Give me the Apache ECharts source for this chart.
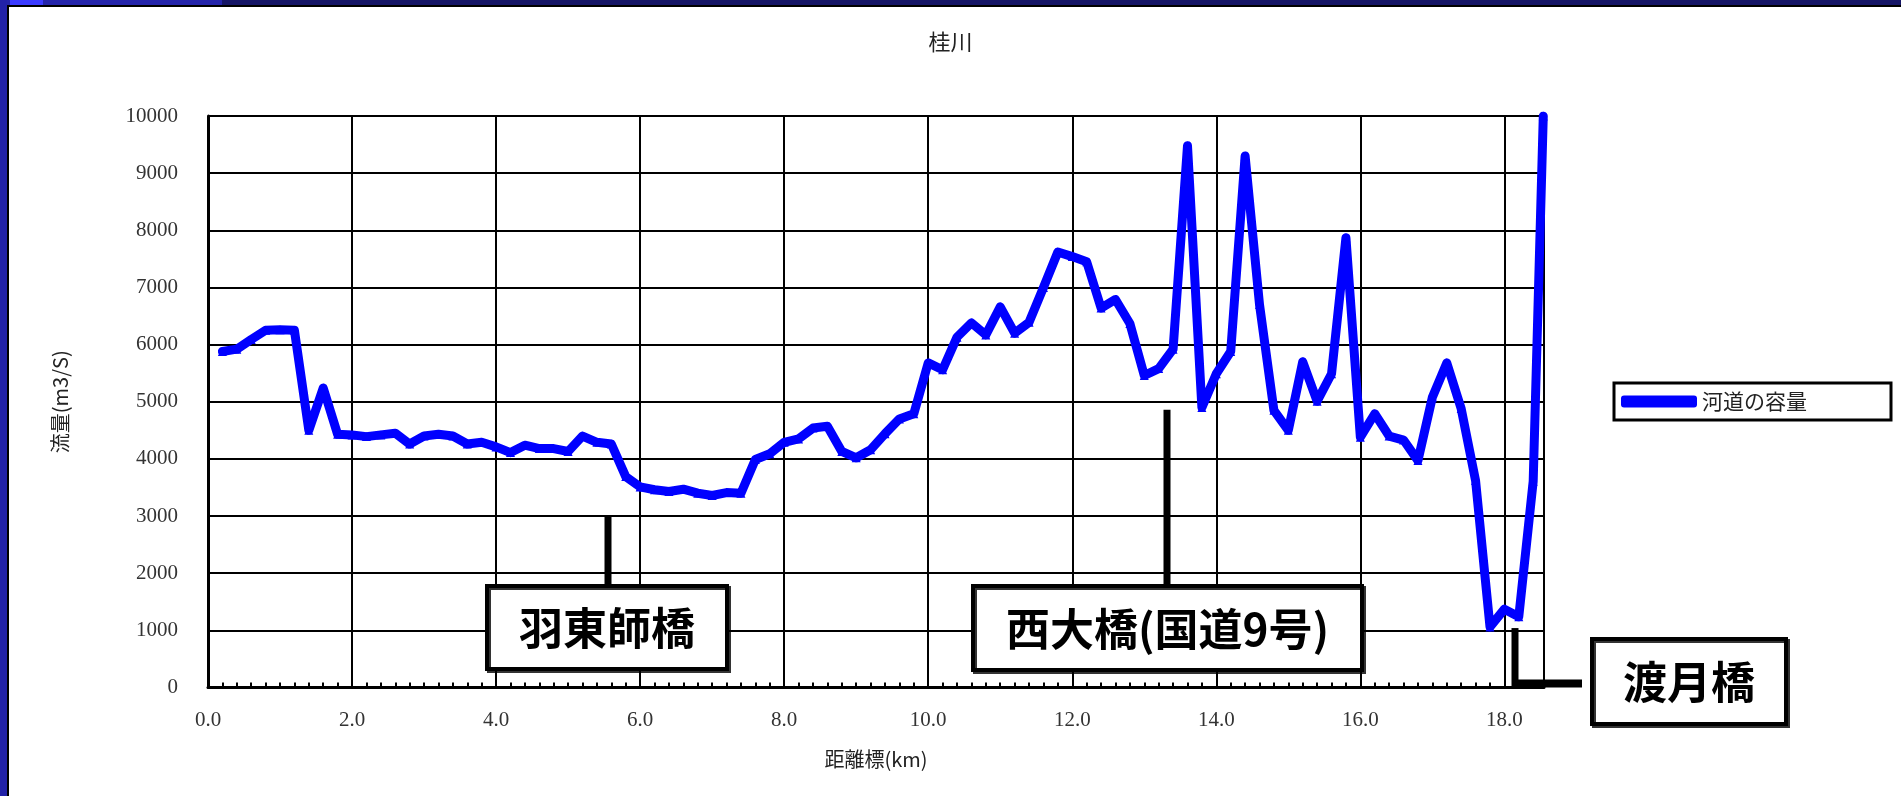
<!DOCTYPE html>
<html><head><meta charset="utf-8">
<script src="https://cdn.jsdelivr.net/npm/echarts@6/dist/echarts.min.js"></script>
<style>html,body{margin:0;padding:0;background:#fff;overflow:hidden}#c{width:1901px;height:796px}</style>
</head><body><div id="c"></div>
<script>
const chartTitle = '桂川';
const seriesName = '河道の容量';
const xAxisName = '距離標(km)';
const yAxisName = '流量(m3/S)';
const distanceKm = [0.2,0.4,0.6,0.8,1.0,1.2,1.4,1.6,1.8,2.0,2.2,2.4,2.6,2.8,3.0,3.2,3.4,3.6,3.8,4.0,4.2,4.4,4.6,4.8,5.0,5.2,5.4,5.6,5.8,6.0,6.2,6.4,6.6,6.8,7.0,7.2,7.4,7.6,7.8,8.0,8.2,8.4,8.6,8.8,9.0,9.2,9.4,9.6,9.8,10.0,10.2,10.4,10.6,10.8,11.0,11.2,11.4,11.6,11.8,12.0,12.2,12.4,12.6,12.8,13.0,13.2,13.4,13.6,13.8,14.0,14.2,14.4,14.6,14.8,15.0,15.2,15.4,15.6,15.8,16.0,16.2,16.4,16.6,16.8,17.0,17.2,17.4,17.6,17.8,18.0,18.2,18.4,18.54];
const capacity = [
  5880,5920,6090,6250,6260,6250,
  4500,5240,4430,4420,4390,4420,
  4450,4260,4400,4430,4400,4260,
  4290,4210,4110,4240,4180,4180,
  4130,4400,4290,4260,3690,3510,
  3460,3430,3470,3400,3360,3410,
  3400,3990,4090,4290,4350,4540,
  4570,4130,4020,4160,4440,4700,
  4790,5680,5560,6130,6380,6170,
  6660,6200,6390,7000,7620,7540,
  7450,6640,6790,6370,5460,5580,
  5920,9480,4900,5490,5880,9300,
  6700,4850,4500,5700,5010,5490,
  7870,4380,4790,4400,4330,3970,
  5080,5680,4880,3620,1060,1370,
  1240,3610,10000
];
const xMin = 0, xMax = 18.55, xInterval = 2, xMinorInterval = 0.2;
const yMin = 0, yMax = 10000, yInterval = 1000;
const calloutLabels = ['羽東師橋', '西大橋(国道9号)', '渡月橋'];
const calloutKm = [5.55, 13.32, 18.15];
const calloutTopQ = [3000, 4860, 1040];

const chart = echarts.init(document.getElementById('c'), null, {renderer: 'canvas'});
const serif = '"Liberation Serif", "DejaVu Serif", serif';
const cjk = '"Noto Sans CJK JP", "Noto Sans", sans-serif';
const gridBox = {left: 208, right: 357, top: 116, bottom: 108.5};

const option = {
  animation: false,
  backgroundColor: '#ffffff',
  title: {
    text: chartTitle, left: 'center', top: 26,
    textStyle: {fontSize: 22, fontWeight: 'normal', color: '#222', fontFamily: cjk}
  },
  legend: {
    data: [{name: seriesName, icon: 'roundRect'}],
    left: 1614, top: 383,
    orient: 'horizontal',
    borderColor: '#000', borderWidth: 3, borderRadius: 0,
    padding: [8, 84, 8, 7],
    itemWidth: 76, itemHeight: 12, itemGap: 6,
    itemStyle: {color: '#0000ff', borderWidth: 0},
    textStyle: {fontSize: 21, color: '#222', fontFamily: cjk}
  },
  grid: [
    Object.assign({outerBoundsMode: 'none', containLabel: false}, gridBox),
    Object.assign({outerBoundsMode: 'none', containLabel: false}, gridBox)
  ],
  xAxis: [{
    type: 'value', gridIndex: 0, min: xMin, max: xMax, interval: xInterval,
    name: xAxisName, nameLocation: 'middle', nameGap: 62,
    nameTextStyle: {fontSize: 20, color: '#222', fontFamily: cjk},
    axisLine: {show: true, lineStyle: {color: '#000', width: 3}},
    axisTick: {show: false},
    axisLabel: {show: true, margin: 22, fontSize: 21, color: '#333', fontFamily: serif,
      showMaxLabel: false, formatter: v => Number(v).toFixed(1)},
    splitLine: {show: true, lineStyle: {color: '#000', width: 2}}
  }, {
    type: 'value', gridIndex: 1, min: xMin, max: xMax, interval: xMinorInterval,
    axisLine: {show: false},
    axisTick: {show: true, inside: true, length: 5, lineStyle: {color: '#000', width: 2}},
    axisLabel: {show: false},
    splitLine: {show: false}
  }],
  yAxis: [{
    type: 'value', gridIndex: 0, min: yMin, max: yMax, interval: yInterval,
    name: yAxisName, nameLocation: 'middle', nameGap: 138, nameRotate: 90,
    nameTextStyle: {fontSize: 20, color: '#222', fontFamily: cjk},
    axisLine: {show: true, lineStyle: {color: '#000', width: 3}},
    axisTick: {show: false},
    axisLabel: {show: true, margin: 30, fontSize: 21, color: '#333', fontFamily: serif,
      formatter: v => String(v)},
    splitLine: {show: true, lineStyle: {color: '#000', width: 2}}
  }, {
    type: 'value', gridIndex: 1, min: yMin, max: yMax,
    axisLine: {show: false}, axisTick: {show: false}, axisLabel: {show: false}, splitLine: {show: false}
  }],
  series: [{
    name: seriesName, type: 'line', xAxisIndex: 0, yAxisIndex: 0,
    data: distanceKm.map((x, i) => [x, capacity[i]]),
    symbol: 'triangle', symbolSize: 9, showSymbol: true, showAllSymbol: true,
    clip: true,
    itemStyle: {color: '#0000ff'},
    lineStyle: {color: '#0000ff', width: 9, cap: 'round', join: 'round'},
    z: 5
  }]
};
chart.setOption(option);

function buildGraphics() {
  const g = [];
  // slide frame
  g.push({type: 'rect', shape: {x: 0, y: 0, width: 1901, height: 6}, style: {fill: '#151566'}, silent: true, z: 100});
  g.push({type: 'rect', shape: {x: 0, y: 0, width: 222, height: 6}, style: {fill: '#2424aa'}, silent: true, z: 101});
  g.push({type: 'rect', shape: {x: 10, y: 0, width: 33, height: 5}, style: {fill: '#3a3aff'}, silent: true, z: 102});
  g.push({type: 'rect', shape: {x: 0, y: 0, width: 7, height: 796}, style: {fill: '#2222a8'}, silent: true, z: 101});
  g.push({type: 'rect', shape: {x: 7, y: 5, width: 1894, height: 2}, style: {fill: '#000'}, silent: true, z: 103});
  g.push({type: 'rect', shape: {x: 7, y: 5, width: 2, height: 791}, style: {fill: '#000'}, silent: true, z: 103});

  const pts = calloutKm.map((k, i) => chart.convertToPixel({xAxisIndex: 0, yAxisIndex: 0}, [k, calloutTopQ[i]]));
  const base = chart.convertToPixel({xAxisIndex: 0, yAxisIndex: 0}, [0, 0]);
  const boxTop = 586;
  const boxes = [
    {w: 240, h: 83, dx: -121, y: boxTop},
    {w: 389, h: 84, dx: -194, y: boxTop},
    {w: 194, h: 85, dx: 77, y: 639}
  ];
  const textStyle = {
    font: 'bold 44px "Noto Sans CJK JP", sans-serif', fill: '#000',
    shadowColor: 'rgba(0,0,0,0.45)', shadowOffsetX: 3, shadowOffsetY: 3, shadowBlur: 3,
    textAlign: 'center', textVerticalAlign: 'middle', align: 'center', verticalAlign: 'middle'
  };
  pts.forEach((p, i) => {
    const b = boxes[i];
    const lx = Math.round(p[0]);
    if (i < 2) {
      g.push({type: 'line', shape: {x1: lx, y1: p[1], x2: lx, y2: b.y}, style: {stroke: '#000', lineWidth: 7}, silent: true, z: 110});
    } else {
      g.push({type: 'line', shape: {x1: lx, y1: p[1], x2: lx, y2: base[1]}, style: {stroke: '#000', lineWidth: 7}, silent: true, z: 110});
      g.push({type: 'rect', shape: {x: lx - 3, y: base[1] - 8, width: 70, height: 8}, style: {fill: '#000'}, silent: true, z: 110});
    }
    const bx = lx + b.dx;
    g.push({type: 'rect', shape: {x: bx, y: b.y, width: b.w, height: b.h},
      style: {fill: '#fff', stroke: '#000', lineWidth: 4, shadowColor: 'rgba(0,0,0,0.8)', shadowOffsetX: 2, shadowOffsetY: 2, shadowBlur: 0},
      silent: true, z: 111});
    g.push({type: 'text', x: bx + b.w / 2, y: b.y + b.h / 2 + 1,
      style: Object.assign({text: calloutLabels[i]}, textStyle), silent: true, z: 112});
  });
  return g;
}
chart.setOption({graphic: buildGraphics()});
</script></body></html>
